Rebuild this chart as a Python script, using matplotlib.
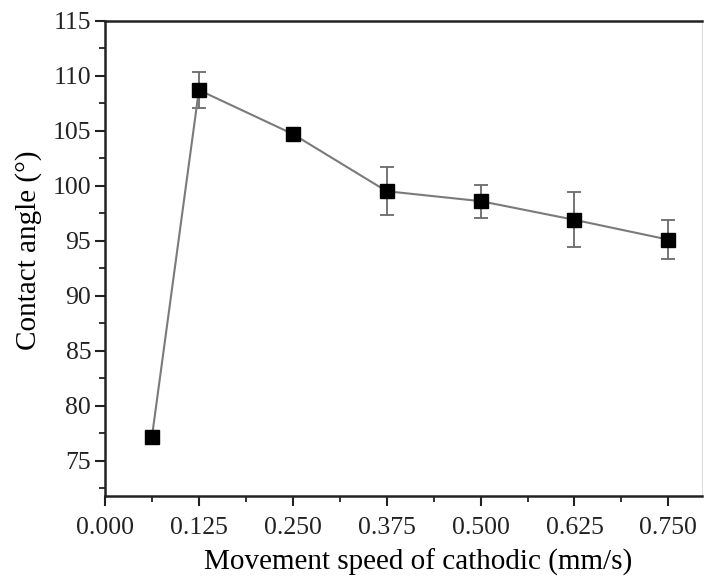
import matplotlib.pyplot as plt
from matplotlib.ticker import MultipleLocator

speed = [0.0625, 0.125, 0.25, 0.375, 0.5, 0.625, 0.75]
angle = [77.2, 108.7, 104.7, 99.5, 98.6, 96.9, 95.1]
err = [0.3, 1.6, 0.5, 2.2, 1.5, 2.5, 1.75]
xticks = [0.0, 0.125, 0.25, 0.375, 0.5, 0.625, 0.75]

plt.rcParams['font.family'] = ['Liberation Serif', 'DejaVu Serif']

fig = plt.figure(figsize=(7.05, 5.76), dpi=100)
ax = fig.add_axes([0.149, 0.139, 0.847, 0.825])

ax.errorbar(speed, angle, yerr=err, color='#7a7a7a', lw=1.5, ecolor='#6a6a6a',
            elinewidth=1.3, capsize=5, capthick=1.3,
            marker='s', markersize=10, markerfacecolor='black', markeredgecolor='black', zorder=3)

ax.set_xlim(0, 0.795)
ax.set_ylim(71.8, 115)
ax.set_xticks(xticks)
ax.set_xticklabels(['%.3f' % v for v in xticks])
ax.xaxis.set_minor_locator(MultipleLocator(0.0625))
ax.yaxis.set_major_locator(MultipleLocator(5))
ax.yaxis.set_minor_locator(MultipleLocator(2.5))

ax.tick_params(which='major', direction='out', length=7, width=1.5, labelsize=18.5, colors='#222222')
ax.tick_params(axis='y', which='major', pad=3)
ax.tick_params(axis='x', which='major', pad=8)
ax.tick_params(which='minor', direction='out', length=4, width=1.3, colors='#222222')
ax.tick_params(top=False, right=False)

for side in ['left', 'bottom', 'top']:
    ax.spines[side].set_linewidth(1.8)
    ax.spines[side].set_color('#222222')
ax.spines['right'].set_color('#dddddd')

ax.set_xlabel('Movement speed of cathodic (mm/s)', fontsize=21)
ax.set_ylabel('Contact angle (°)', fontsize=21)
ax.xaxis.set_label_coords(0.524, -0.112)
ax.yaxis.set_label_coords(-0.105, 0.516)

fig.savefig('out.png', dpi=100)
